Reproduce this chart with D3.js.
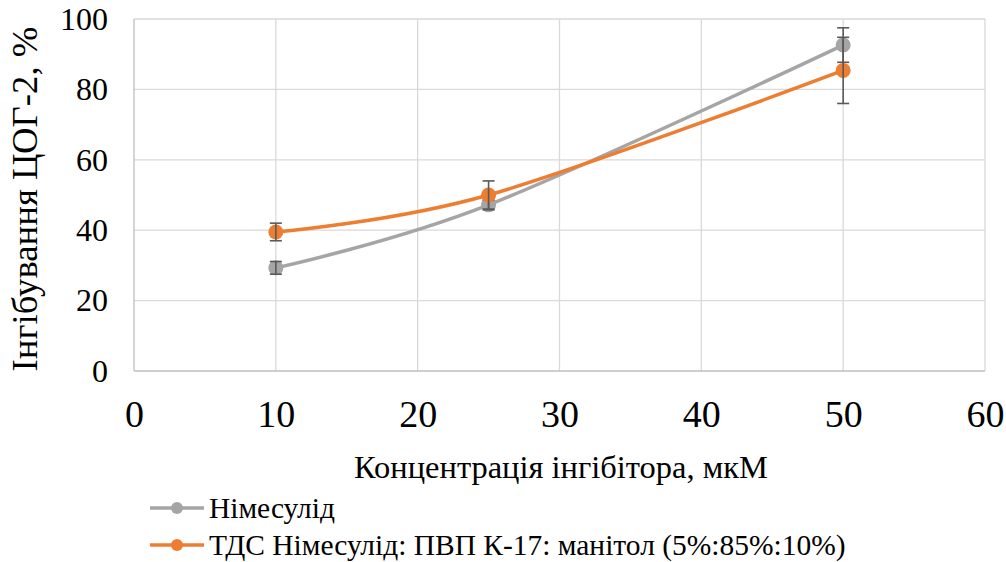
<!DOCTYPE html>
<html><head><meta charset="utf-8">
<script src="https://cdn.jsdelivr.net/npm/d3@7"></script>
<style>body{margin:0;background:#fff}</style>
</head><body><svg id="c" width="1006" height="562" font-family="Liberation Serif"></svg>
<script>
const xTicks = [0,10,20,30,40,50,60];
const yTicks = [0,20,40,60,80,100];
const concentrations = [10,25,50];
const nimesulideValues = [29.3,47.2,92.6];
const nimesulideErrors = [1.8,1.4,4.9];
const tdsValues = [39.5,50.0,85.4];
const tdsErrors = [2.5,4.0,9.4];
const seriesNames = ["Німесулід","ТДС Німесулід: ПВП К-17: манітол (5%:85%:10%)"];
const xTitle = "Концентрація інгібітора, мкМ";
const yTitle = "Інгібування ЦОГ-2, %";

const FONT = "Liberation Serif, Times New Roman, serif";
const svg = d3.select("#c");
const x = d3.scaleLinear().domain([0,60]).range([134,985]);
const y = d3.scaleLinear().domain([0,100]).range([371,19]);

function fitText(sel, target){
  const n = sel.node();
  n.setAttribute("font-size", 100);
  const len = n.getComputedTextLength();
  const fs = 100*target/len;
  n.setAttribute("font-size", fs);
  return fs;
}

const g = svg.append("g");
g.selectAll(".vg").data(xTicks.slice(1)).join("line")
 .attr("x1",d=>x(d)).attr("x2",d=>x(d)).attr("y1",y(0)).attr("y2",y(100))
 .attr("stroke","#d9d9d9").attr("stroke-width",1.3);
g.selectAll(".hg").data(yTicks.slice(1)).join("line")
 .attr("x1",x(0)).attr("x2",x(60)).attr("y1",d=>y(d)).attr("y2",d=>y(d))
 .attr("stroke","#d9d9d9").attr("stroke-width",1.3);
g.append("line").attr("x1",x(0)).attr("x2",x(60)).attr("y1",y(0)).attr("y2",y(0)).attr("stroke","#bfbfbf").attr("stroke-width",1.3);
g.append("line").attr("x1",x(0)).attr("x2",x(0)).attr("y1",y(0)).attr("y2",y(100)).attr("stroke","#bfbfbf").attr("stroke-width",1.3);

const xAxis = d3.axisBottom(x).tickValues(xTicks).tickSize(0).tickPadding(0);
const xa = svg.append("g").attr("transform",`translate(0,${y(0)})`).call(xAxis)
  .attr("font-family",FONT).attr("font-size",38);
xa.select(".domain").remove();
xa.selectAll("text").attr("dy",null).attr("y",56).attr("fill","#000");
const yAxis = d3.axisLeft(y).tickValues(yTicks).tickSize(0).tickPadding(26);
const ya = svg.append("g").attr("transform",`translate(${x(0)},0)`).call(yAxis)
  .attr("font-family",FONT).attr("font-size",32);
ya.select(".domain").remove();
ya.selectAll("text").attr("fill","#000");

const xt = svg.append("text").attr("x",561).attr("y",478).attr("text-anchor","middle").attr("font-family",FONT).attr("fill","#000").text(xTitle);
fitText(xt, 414);
const yt = svg.append("text").attr("transform","translate(37,199) rotate(-90)").attr("text-anchor","middle").attr("font-family",FONT).attr("fill","#000").text(yTitle);
fitText(yt, 345);

const series = [
 {vals:nimesulideValues, errs:nimesulideErrors, color:"#a5a5a5"},
 {vals:tdsValues, errs:tdsErrors, color:"#ed7d31"}
];
const line = d3.line().x(d=>x(d[0])).y(d=>y(d[1])).curve(d3.curveCardinal.tension(0));
series.forEach(s=>{
  const pts = concentrations.map((c,i)=>[c,s.vals[i],s.errs[i]]);
  g.append("path").datum(pts).attr("d",line).attr("fill","none").attr("stroke",s.color).attr("stroke-width",3.5).attr("stroke-linecap","round");
});
series.forEach(s=>{
  const pts = concentrations.map((c,i)=>[c,s.vals[i],s.errs[i]]);
  g.selectAll(null).data(pts).join("circle").attr("cx",d=>x(d[0])).attr("cy",d=>y(d[1])).attr("r",7.5).attr("fill",s.color);
  const eb = g.selectAll(null).data(pts).join("g").attr("stroke","#595959").attr("stroke-width",1.6);
  eb.append("line").attr("x1",d=>x(d[0])).attr("x2",d=>x(d[0])).attr("y1",d=>y(d[1]-d[2])).attr("y2",d=>y(d[1]+d[2]));
  eb.append("line").attr("x1",d=>x(d[0])-6).attr("x2",d=>x(d[0])+6).attr("y1",d=>y(d[1]-d[2])).attr("y2",d=>y(d[1]-d[2]));
  eb.append("line").attr("x1",d=>x(d[0])-6).attr("x2",d=>x(d[0])+6).attr("y1",d=>y(d[1]+d[2])).attr("y2",d=>y(d[1]+d[2]));
});

const leg = svg.append("g");
const ly = [508,545];
series.forEach((s,i)=>{
  leg.append("line").attr("x1",150).attr("x2",204).attr("y1",ly[i]).attr("y2",ly[i]).attr("stroke",s.color).attr("stroke-width",3.5);
  leg.append("circle").attr("cx",177).attr("cy",ly[i]).attr("r",6).attr("fill",s.color);
});
const lt2 = leg.append("text").attr("x",209).attr("y",ly[1]+10).attr("font-family",FONT).attr("fill","#000").text(seriesNames[1]);
const lfs = fitText(lt2, 637);
leg.append("text").attr("x",209).attr("y",ly[0]+10).attr("font-family",FONT).attr("fill","#000").attr("font-size",lfs).text(seriesNames[0]);
</script></body></html>
